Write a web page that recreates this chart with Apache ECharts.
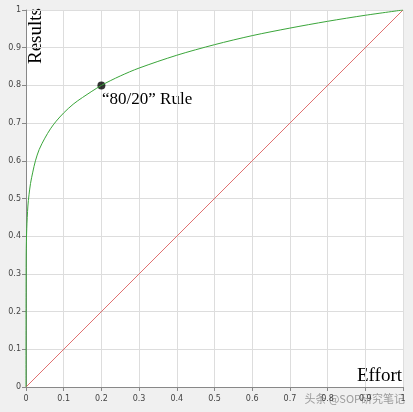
<!DOCTYPE html>
<html><head><meta charset="utf-8">
<script src="https://cdn.jsdelivr.net/npm/echarts@6/dist/echarts.min.js"></script>
<style>html,body{margin:0;padding:0;background:#f0f0f0}#c{width:413px;height:412px}</style>
</head><body><div id="c"></div>
<script>
const curveX = [0,0.0005,0.002,0.005,0.008,0.012,0.018,0.025,0.035,0.05,0.065,0.08,0.1,0.125,0.15,0.2,0.25,0.3,0.4,0.5,0.6,0.7,0.8,0.9,1];
const curveY = [0,0.35,0.42,0.48,0.51,0.54,0.57,0.60,0.63,0.66,0.685,0.705,0.727,0.75,0.768,0.80,0.825,0.846,0.88,0.908,0.932,0.952,0.97,0.986,1];
const lineX = [0,1];
const lineY = [0,1];
const point = [0.2,0.8];
const ax = {type:'value',min:0,max:1,interval:0.1,
  axisLine:{show:true,lineStyle:{color:'#888'}},axisTick:{show:true,length:4,lineStyle:{color:'#888'}},
  axisLabel:{fontSize:8,color:'#444',fontFamily:'DejaVu Sans',formatter:v=>String(+v.toFixed(1))},
  splitLine:{show:true,lineStyle:{color:'#ddd'}}};
const chart = echarts.init(document.getElementById('c'));
chart.setOption({
  backgroundColor:'#f0f0f0',animation:false,
  grid:{left:26,right:10,top:10,bottom:25,backgroundColor:'#fff',show:true,borderWidth:0},
  xAxis:Object.assign({},ax),
  yAxis:Object.assign({},ax,{axisLabel:Object.assign({},ax.axisLabel,{margin:5})}),
  graphic:[
    {type:'text',rotation:Math.PI/2,x:27,y:64,style:{text:'Results',font:'19px "Liberation Serif"',fill:'#000'}},
    {type:'text',right:11,top:367,style:{text:'Effort',font:'19px "Liberation Serif"',fill:'#000'}},
    {type:'text',left:102,top:91,style:{text:'\u201c80/20\u201d Rule',font:'17px "Liberation Serif"',fill:'#000'}},
    {type:'text',right:8,top:393,style:{text:'头条 @SOP研究笔记',font:'11px "Noto Sans CJK SC"',fill:'rgba(120,120,120,0.7)'}}
  ],
  series:[
    {type:'line',data:lineX.map((x,i)=>[x,lineY[i]]),symbol:'none',lineStyle:{color:'#e07070',width:1}},
    {type:'line',data:curveX.map((x,i)=>[x,curveY[i]]),symbol:'none',smooth:0.3,lineStyle:{color:'#3aa53a',width:1}},
    {type:'scatter',data:[point],symbolSize:8,itemStyle:{color:'#000'}}
  ]
});
</script></body></html>
